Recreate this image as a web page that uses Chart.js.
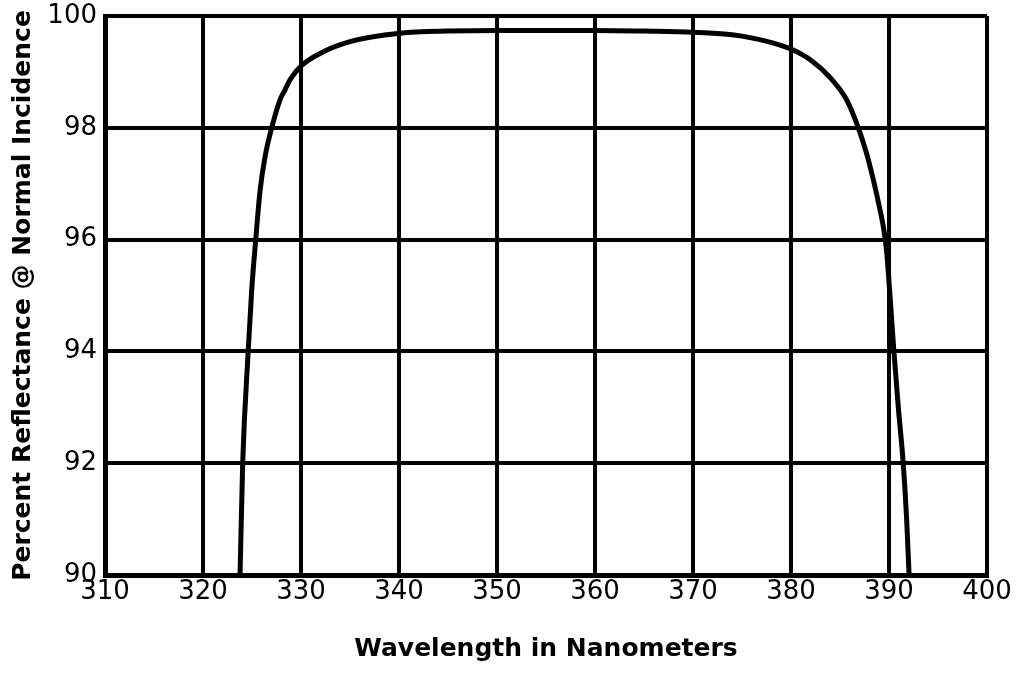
<!DOCTYPE html>
<html>
<head>
<meta charset="utf-8">
<script src="https://cdn.jsdelivr.net/npm/chart.js@4.4.0/dist/chart.umd.min.js"></script>
<style>
	html, body { margin: 0; padding: 0; background: #fff; }
	.wrap { position: relative; width: 1017px; height: 674px; }
</style>
</head>
<body>
<div class="wrap"><canvas id="chart"></canvas></div>
<script>
var wavelengths = [ 323.78, 324.05, 324.61, 324.97, 325.38, 325.82, 326.33, 327.01, 327.86, 328.37, 328.88, 330.1, 331.94, 335.0, 340.1, 345, 350.3, 355, 360, 365, 370, 375, 378.88, 380.23, 382.1, 383.98, 385.68, 386.87, 387.7, 388.4, 389.0, 389.45, 389.75, 390.1, 390.5, 390.95, 391.45, 391.8, 392.05 ];
var reflectance = [ 90, 92, 94, 95.1, 96.0, 96.87, 97.48, 98.0, 98.5, 98.68, 98.86, 99.12, 99.33, 99.54, 99.69, 99.73, 99.74, 99.74, 99.74, 99.73, 99.71, 99.64, 99.48, 99.39, 99.2, 98.9, 98.5, 98.0, 97.55, 97.07, 96.6, 96.2, 95.8, 95.0, 94, 93, 92, 91, 90 ];
var xTicks = [ 310, 320, 330, 340, 350, 360, 370, 380, 390, 400 ];
var yTicks = [ 90, 92, 94, 96, 98, 100 ];

(function () {
	'use strict';

	var points = wavelengths.map( function ( w, i ) {
		return { x: w, y: reflectance[ i ] };
	} );

	var tickFont = { family: 'DejaVu Sans', size: 26, weight: 'normal' };
	var titleFont = { family: 'DejaVu Sans', size: 25, weight: 'bold' };

	new Chart( document.getElementById( 'chart' ), {
		type: 'scatter',
		data: {
			datasets: [ {
				data: points,
				showLine: true,
				borderColor: '#000',
				borderWidth: 5,
				pointRadius: 0,
				cubicInterpolationMode: 'monotone',
				fill: false,
			} ],
		},
		options: {
			responsive: true,
			maintainAspectRatio: false,
			animation: false,
			layout: { padding: { top: 16, right: 30, left: 4, bottom: 6 } },
			plugins: { legend: { display: false }, tooltip: { enabled: false } },
			scales: {
				x: {
					type: 'linear',
					min: 310,
					max: 400,
					afterBuildTicks: function ( scale ) {
						scale.ticks = xTicks.map( function ( v ) { return { value: v }; } );
					},
					afterFit: function ( scale ) {
						scale.height = 93;
						scale.paddingLeft = 0;
						scale.paddingRight = 0;
					},
					grid: { color: '#000', lineWidth: 4, drawTicks: false },
					border: { color: '#000', width: 5 },
					ticks: { color: '#000', font: tickFont, padding: 2, maxRotation: 0 },
					title: {
						display: true,
						text: 'Wavelength in Nanometers',
						color: '#000',
						font: titleFont,
						padding: { top: 20 },
					},
				},
				y: {
					min: 90,
					max: 100,
					afterBuildTicks: function ( scale ) {
						scale.ticks = yTicks.map( function ( v ) { return { value: v }; } );
					},
					afterFit: function ( scale ) {
						scale.width = 101;
						scale.paddingTop = 0;
						scale.paddingBottom = 0;
					},
					grid: { color: '#000', lineWidth: 4, drawTicks: false },
					border: { color: '#000', width: 5 },
					ticks: { color: '#000', font: tickFont, padding: 8 },
					title: {
						display: true,
						text: 'Percent Reflectance @ Normal Incidence',
						color: '#000',
						font: titleFont,
						padding: { bottom: 4 },
					},
				},
			},
		},
	} );
}() );
</script>
</body>
</html>
